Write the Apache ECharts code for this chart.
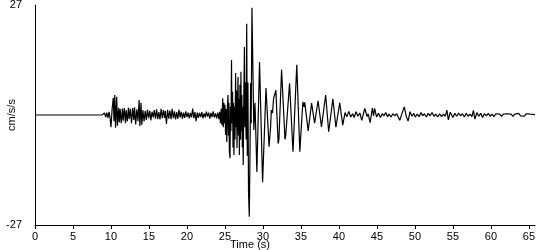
<!DOCTYPE html>
<html>
<head>
<meta charset="utf-8">
<script src="https://cdn.jsdelivr.net/npm/echarts@6/dist/echarts.min.js"></script>
<style>
html,body{margin:0;padding:0;background:#fff;}
#chart{width:550px;height:250px;}
</style>
</head>
<body>
<div id="chart"></div>
<script>
// Ground acceleration (cm/s/s) vs time (s) as [time, value]
const preEvent = [[0,0],[8.8,0]];
const pWave = [
[8.9,0.3],[9.0,-0.4],[9.15,0.5],[9.3,-0.5],[9.45,0.6],[9.6,-0.7],[9.75,0.8],[9.9,-1.0],
[10.0,-3.0],[10.15,1.5],[10.3,4.2],[10.4,-1.5],[10.5,4.9],[10.6,-3.1],[10.75,4.5],[10.85,-2.6],
[11.0,1.8],[11.1,-1.8],[11.2,1.5],[11.35,-2.0],[11.5,1.6],[11.6,-1.4],[11.75,1.7],[11.9,-2.0],
[12.0,1.2],[12.15,-1.6],[12.3,1.8],[12.4,-1.0],[12.55,1.5],[12.7,-2.0],[12.85,1.7],[13.0,-1.2],
[13.1,1.9],[13.25,-2.3],[13.4,1.4],[13.55,-1.5],[13.7,3.7],[13.8,-2.7],[13.95,3.0],[14.05,-2.4],
[14.2,1.2],[14.35,-1.6],[14.5,1.0],[14.65,-1.2],[14.8,1.3],[14.95,-0.8],[15.1,1.0],[15.25,-1.3],
[15.4,0.8],[15.55,-0.6],[15.7,1.2],[15.85,-0.9],[16.0,1.4],[16.15,-1.0],[16.3,0.7],[16.45,-1.1],
[16.6,1.5],[16.75,-0.8],[16.9,1.2],[17.05,-0.7],[17.15,1.0],[17.3,-2.2],[17.45,1.3],[17.6,-0.9],
[17.75,1.1],[17.9,-1.0],[18.05,1.5],[18.2,-0.8],[18.35,0.9],[18.5,-1.1],[18.65,0.7],[18.8,-0.9],
[18.95,1.3],[19.1,-0.6],[19.25,0.8],[19.4,-0.9],[19.55,0.6],[19.7,-0.7],[19.85,0.9],[20.0,-0.5],
[20.15,0.6],[20.3,-0.8],[20.45,0.5],[20.6,-0.6],[20.75,1.6],[20.9,-0.8],[21.05,0.7],[21.2,-1.5],
[21.35,0.6],[21.5,-0.7],[21.65,0.5],[21.8,-0.5],[21.95,0.7],[22.1,-0.8],[22.25,0.4],[22.4,-0.6],
[22.55,0.8],[22.7,-0.4],[22.85,0.6],[23.0,-0.9],[23.15,0.5],[23.3,-0.5],[23.45,0.9],[23.6,-0.6],
[23.75,0.4],[23.9,-0.8],[24.05,0.6]
];
const sWave = [
[24.2,-1.0],[24.3,0.8],[24.4,-2.0],[24.5,1.5],[24.6,-2.5],[24.7,4.1],[24.78,-3.0],[24.86,3.0],
[24.94,-2.0],[25.0,2.5],[25.08,-4.9],[25.16,1.5],[25.24,-6.6],[25.32,2.0],[25.4,4.9],[25.46,-5.0],
[25.52,3.0],[25.58,-9.0],[25.66,-10.6],[25.72,2.0],[25.78,-4.0],[25.86,13.5],[25.92,-2.0],[26.0,5.7],
[26.06,-8.0],[26.12,3.0],[26.18,-9.8],[26.26,2.0],[26.32,-6.0],[26.4,10.3],[26.46,-3.0],[26.52,6.0],
[26.58,-8.1],[26.66,3.0],[26.72,9.3],[26.78,-5.0],[26.84,4.0],[26.9,-9.8],[26.97,7.4],[27.04,-6.0],
[27.1,10.6],[27.16,-4.0],[27.22,4.9],[27.28,-8.0],[27.34,2.0],[27.4,-12.3],[27.48,5.0],[27.56,16.7],
[27.62,-3.0],[27.7,8.0],[27.78,-6.0],[27.86,22.4],[27.94,-10.0],[28.02,8.0],[28.1,-19.0],[28.2,-25.0],
[28.3,-8.0],[28.38,7.8],[28.45,-2.0],[28.55,26.3],
[28.8,-3.7],[28.95,3.0],[29.2,-14.0],[29.55,13.0],[29.95,-16.5],[30.4,6.6],[30.8,-7.8],[31.0,-3.0],
[31.1,1.2],[31.25,0.5],[31.4,4.0],[31.7,6.1],[32.0,-7.0],[32.1,-6.0],[32.45,11.1],[32.9,-6.0],
[33.0,-5.0],[33.5,7.8],[33.95,-9.0],[34.45,12.3],[34.85,-9.0],[35.25,3.2],[35.4,2.0],[35.5,3.1],
[35.95,-3.9],[36.4,2.9],[36.8,-2.0],[37.25,3.5],[37.7,-2.9],[38.25,4.9],[38.65,-4.1],[39.2,4.0],
[39.6,-3.0],[40.1,3.0],[40.5,-2.5]
];
const coda = [
[40.8,0.6],[41.05,-0.4],[41.3,0.9],[41.55,-0.5],[41.8,0.3],[42.0,-0.6],[42.25,0.8],[42.5,-0.3],
[42.75,0.5],[43.0,-1.3],[43.4,1.6],[43.7,-0.4],[43.85,0.3],[44.1,-1.9],[44.4,1.7],[44.55,-0.2],
[44.7,1.6],[44.95,-0.5],[45.2,0.4],[45.45,-0.6],[45.7,0.3],[45.95,-0.2],[46.15,0.6],[46.4,-0.4],
[46.6,0.2],[46.85,-0.5],[47.1,0.3],[47.35,-0.2],[47.6,0.3],[47.8,-0.5],[48.0,-1.3],[48.3,0.4],
[48.6,2.0],[48.85,-0.3],[49.1,-1.5],[49.35,0.8],[49.6,-0.3],[49.85,0.4],[50.05,-0.5],[50.3,0.2],
[50.55,-0.4],[50.8,0.6],[51.0,-0.2],[51.25,0.3],[51.5,-0.5],[51.75,0.4],[52.0,-0.2],[52.25,0.6],
[52.5,-0.3],[52.75,0.2],[53.0,-0.5],[53.25,0.3],[53.5,-0.4],[53.75,0.2],[54.0,-0.3],[54.2,1.2],
[54.4,-1.2],[54.65,0.7],[55.0,-0.6],[55.25,0.4],[55.5,-0.3],[55.75,0.5],[56.0,-0.2],[56.25,0.3],
[56.5,-0.5],[56.75,0.4],[57.0,-0.3],[57.25,0.2],[57.5,-0.4],[57.7,1.1],[57.9,-1.0],[58.15,0.6],
[58.4,-0.3],[58.65,0.4],[58.9,-0.6],[59.15,0.3],[59.4,-0.2],[59.65,0.4],[59.9,-0.3],[60.15,0.2],
[60.4,-0.4],[60.65,0.3],[60.9,-0.1],[61.15,0.2],[61.4,-0.3],[61.65,0.2],[61.9,-0.2],[62.15,0.3],
[62.4,-0.1],[62.65,0.2],[62.9,-0.3],[63.15,0.2],[63.4,-0.2],[63.65,0.4],[63.9,-0.2],[64.15,0.2],
[64.4,-0.3],[64.65,0.3],[64.9,-0.1],[65.15,0.2],[65.4,-0.2],[65.8,0.1]
];
const timeTicks = [0,5,10,15,20,25,30,35,40,45,50,55,60,65];
const accelTicks = [-27, 27];
const xLabel = 'Time (s)';
const yLabel = 'cm/s/s';

const trace = preEvent.concat(pWave, sWave, coda);
const font = 'Liberation Sans, DejaVu Sans, sans-serif';

const chart = echarts.init(document.getElementById('chart'), null, {renderer: 'canvas'});
chart.setOption({
  animation: false,
  backgroundColor: '#fff',
  grid: {left: 35, right: 15, top: 5, bottom: 25, containLabel: false, outerBoundsMode: 'none'},
  xAxis: {
    type: 'value', min: 0, max: 65.8,
    name: xLabel, nameLocation: 'middle', nameGap: 14, nameMoveOverlap: false,
    nameTextStyle: {color: '#000', fontFamily: font, fontSize: 11, padding: [0, 70, 0, 0]},
    axisLine: {show: true, onZero: false, lineStyle: {color: '#000', width: 1}},
    axisTick: {show: true, length: 4, customValues: timeTicks, lineStyle: {color: '#000'}},
    axisLabel: {customValues: timeTicks, color: '#000', fontFamily: font, fontSize: 11, margin: 6},
    splitLine: {show: false}
  },
  yAxis: {
    type: 'value', min: -27, max: 27,
    name: yLabel, nameLocation: 'middle', nameGap: 18, nameRotate: 90, nameMoveOverlap: false,
    nameTextStyle: {color: '#000', fontFamily: font, fontSize: 11},
    axisLine: {show: true, onZero: false, lineStyle: {color: '#000', width: 1}},
    axisTick: {show: false},
    axisLabel: {customValues: accelTicks, color: '#000', fontFamily: font, fontSize: 11, margin: 13},
    splitLine: {show: false}
  },
  series: [{
    type: 'line', data: trace, showSymbol: false, symbol: 'none',
    lineStyle: {color: '#000', width: 1.2}, sampling: null, silent: true
  }]
});
</script>
</body>
</html>
